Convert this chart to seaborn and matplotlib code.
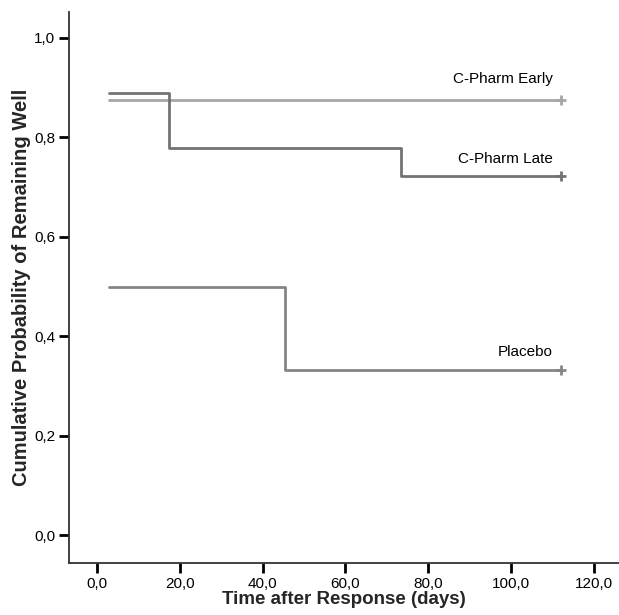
import matplotlib
matplotlib.use("Agg")
import matplotlib.pyplot as plt
import seaborn as sns
import pandas as pd
from matplotlib.ticker import FuncFormatter, FixedLocator

# Data (Kaplan-Meier step curves)
early_t = [3.0, 112.0]
early_s = [0.875, 0.875]
late_t = [3.0, 17.5, 73.5, 112.0]
late_s = [0.889, 0.778, 0.722, 0.722]
placebo_t = [3.0, 45.5, 112.0]
placebo_s = [0.5, 0.333, 0.333]
group_names = ["C-Pharm Early", "C-Pharm Late", "Placebo"]
censor_t = [112.0, 112.0, 112.0]
censor_s = [0.875, 0.722, 0.333]
x_ticks = [0, 20, 40, 60, 80, 100, 120]
y_ticks = [0.0, 0.2, 0.4, 0.6, 0.8, 1.0]

colors = {"C-Pharm Early": "#a6a6a6", "C-Pharm Late": "#737373", "Placebo": "#858585"}

rows = []
for name, ts, ss in zip(group_names, [early_t, late_t, placebo_t], [early_s, late_s, placebo_s]):
    for t, s in zip(ts, ss):
        rows.append({"group": name, "time": t, "surv": s})
df = pd.DataFrame(rows)
cens = pd.DataFrame({"group": group_names, "time": censor_t, "surv": censor_s})

sns.set_style("white")
plt.rcParams["font.family"] = ["Liberation Sans", "DejaVu Sans"]

fig = plt.figure(figsize=(6.19, 6.15), dpi=100)
ax = fig.add_axes([69 / 619, 52 / 615, 1 - 69 / 619, (563 - 12) / 615])

for name in group_names:
    sub = df[df.group == name]
    sns.lineplot(data=sub, x="time", y="surv", ax=ax, color=colors[name],
                 drawstyle="steps-post", estimator=None, linewidth=2.0, legend=False)
    csub = cens[cens.group == name]
    sns.scatterplot(data=csub, x="time", y="surv", ax=ax, color=colors[name],
                    marker="+", s=60, linewidth=2.0, legend=False, zorder=5)

label_y = {"C-Pharm Early": 0.918, "C-Pharm Late": 0.756, "Placebo": 0.369}
for name in group_names:
    ax.text(110.0, label_y[name], name, ha="right", va="center", fontsize=11, color="black")

ax.set_xlim(-6.7, 126.0)
ax.set_ylim(-0.056, 1.052)
ax.xaxis.set_major_locator(FixedLocator(x_ticks))
ax.yaxis.set_major_locator(FixedLocator(y_ticks))
fmt = FuncFormatter(lambda v, p: f"{v:.1f}".replace(".", ","))
ax.xaxis.set_major_formatter(fmt)
ax.yaxis.set_major_formatter(fmt)

for side in ["top", "right"]:
    ax.spines[side].set_visible(False)
for side in ["left", "bottom"]:
    ax.spines[side].set_color("#333333")
    ax.spines[side].set_linewidth(1.3)

ax.tick_params(axis="both", direction="out", length=7.5, width=2, color="black",
               labelsize=11, labelcolor="black", pad=2.5, bottom=True, left=True)

ax.set_xlabel("Time after Response (days)", fontsize=13.5, fontweight="bold", labelpad=0)
ax.set_ylabel("Cumulative Probability of Remaining Well", fontsize=14.5, fontweight="bold", labelpad=2)

fig.savefig("out.png", dpi=100)
